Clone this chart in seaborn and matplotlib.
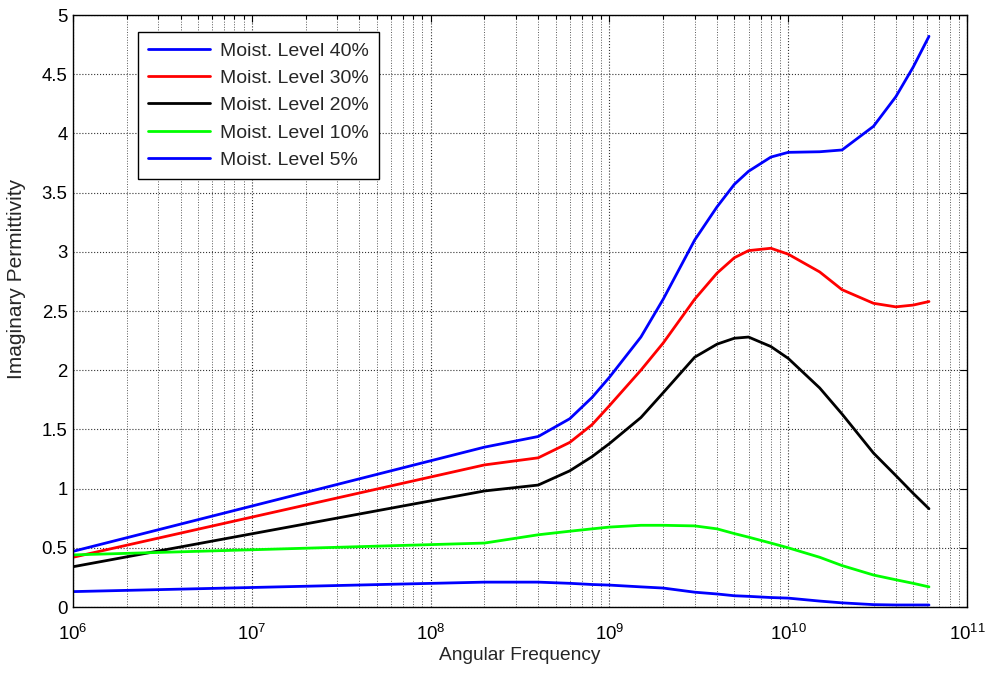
import numpy as np
import pandas as pd
import matplotlib
matplotlib.use("Agg")
import matplotlib.pyplot as plt
import seaborn as sns
from matplotlib.ticker import LogLocator

# Angular frequency sample points
freq = [1e6, 2e8, 4e8, 6e8, 8e8, 1e9, 1.5e9, 2e9, 3e9, 4e9, 5e9, 6e9, 8e9,
        1e10, 1.5e10, 2e10, 3e10, 4e10, 5e10, 6.13e10]

moist_40 = [0.47, 1.35, 1.44, 1.59, 1.77, 1.94, 2.28, 2.60, 3.10, 3.38, 3.57, 3.68, 3.80,
            3.84, 3.845, 3.86, 4.06, 4.31, 4.56, 4.82]
moist_30 = [0.42, 1.20, 1.26, 1.39, 1.54, 1.70, 2.00, 2.23, 2.60, 2.82, 2.95, 3.01, 3.03,
            2.98, 2.83, 2.68, 2.565, 2.535, 2.55, 2.58]
moist_20 = [0.34, 0.98, 1.03, 1.15, 1.27, 1.38, 1.60, 1.81, 2.11, 2.22, 2.27, 2.28, 2.20,
            2.10, 1.85, 1.63, 1.30, 1.11, 0.96, 0.83]
moist_10 = [0.44, 0.54, 0.61, 0.64, 0.66, 0.675, 0.69, 0.69, 0.685, 0.66, 0.62, 0.59, 0.54,
            0.50, 0.42, 0.35, 0.27, 0.23, 0.20, 0.17]
moist_5 = [0.13, 0.21, 0.21, 0.20, 0.19, 0.185, 0.17, 0.16, 0.125, 0.11, 0.095, 0.09, 0.08,
           0.075, 0.05, 0.035, 0.02, 0.017, 0.017, 0.017]

labels = ["Moist. Level 40%", "Moist. Level 30%", "Moist. Level 20%",
          "Moist. Level 10%", "Moist. Level 5%"]
colors = ["#0000ff", "#ff0000", "#000000", "#00ff00", "#0000ff"]
series = [moist_40, moist_30, moist_20, moist_10, moist_5]
ytick_vals = [0, 0.5, 1, 1.5, 2, 2.5, 3, 3.5, 4, 4.5, 5]
ytick_labels = ["0", "0.5", "1", "1.5", "2", "2.5", "3", "3.5", "4", "4.5", "5"]

rows = []
for lab, vals in zip(labels, series):
    for f, v in zip(freq, vals):
        rows.append({"freq": f, "val": v, "series": lab})
df = pd.DataFrame(rows)

sns.set_style("white")
plt.rcParams["font.family"] = ["Liberation Sans", "DejaVu Sans"]
plt.rcParams["mathtext.fontset"] = "custom"
plt.rcParams["mathtext.rm"] = "Liberation Sans"
plt.rcParams["mathtext.it"] = "Liberation Sans"
plt.rcParams["mathtext.default"] = "regular"

fig = plt.figure(figsize=(9.87, 6.73), dpi=100)
ax = fig.add_axes([73 / 987, 1 - 607 / 673, 894 / 987, 592 / 673])

sns.lineplot(data=df, x="freq", y="val", hue="series", hue_order=labels,
             palette=dict(zip(labels, colors)), estimator=None, sort=False,
             linewidth=2.0, ax=ax)

ax.set_xscale("log")
ax.set_xlim(1e6, 1e11)
ax.set_ylim(0, 5)
ax.set_yticks(ytick_vals)
ax.set_yticklabels(ytick_labels)
ax.xaxis.set_major_locator(LogLocator(base=10, numticks=12))
ax.xaxis.set_minor_locator(LogLocator(base=10, subs=np.arange(2, 10), numticks=12))

ax.grid(True, which="major", axis="both", linestyle=":", color="0.2", linewidth=0.8)
ax.grid(True, which="minor", axis="x", linestyle=":", color="0.35", linewidth=0.7)

ax.tick_params(which="both", direction="in", top=True, right=True, labelsize=13.4,
               colors="black", width=0.8)
ax.tick_params(which="major", length=5)
ax.tick_params(which="minor", length=3)
ax.tick_params(axis="x", which="major", pad=12)
ax.tick_params(axis="y", which="major", pad=4)
for sp in ax.spines.values():
    sp.set_color("black")
    sp.set_linewidth(1.0)

ax.set_xlabel("Angular Frequency", fontsize=13.8, labelpad=2)
ax.set_ylabel("Imaginary Permittivity", fontsize=15)
ax.yaxis.set_label_coords(-0.053, 0.555)

leg = ax.legend(loc="upper left", bbox_to_anchor=(0.073, 0.971), borderaxespad=0,
                fancybox=False, framealpha=1, edgecolor="black", fontsize=14,
                handlelength=3.2, handletextpad=0.5, labelspacing=0.5,
                borderpad=0.5, title=None)
leg.get_frame().set_linewidth(1.0)

fig.savefig("out.png", dpi=100)
